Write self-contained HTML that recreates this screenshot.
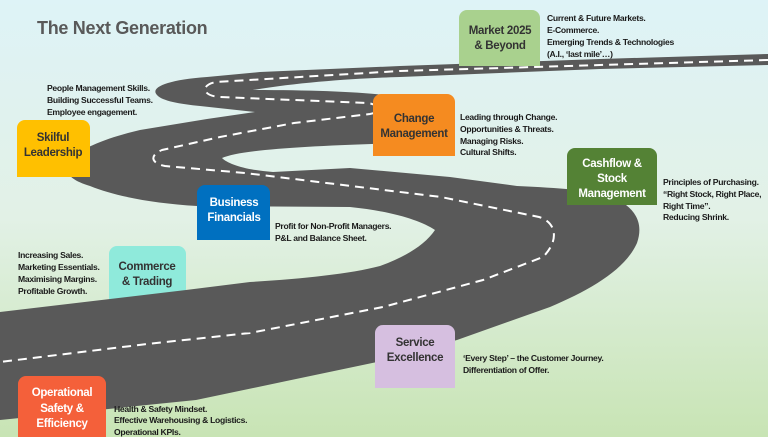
<!DOCTYPE html>
<html><head><meta charset="utf-8"><style>
html,body{margin:0;padding:0;}
body{width:768px;height:437px;overflow:hidden;}
svg text{font-family:"Liberation Sans",sans-serif;font-weight:bold;}
.n text{letter-spacing:-0.3px;}
.b text{letter-spacing:-0.3px;}
</style></head><body>
<svg width="768" height="437" viewBox="0 0 768 437" xmlns="http://www.w3.org/2000/svg">
<defs>
<linearGradient id="bg" x1="0" y1="0" x2="0" y2="1">
<stop offset="0" stop-color="#def3f7"/>
<stop offset="0.5" stop-color="#e2f1e6"/>
<stop offset="1" stop-color="#c8e4b4"/>
</linearGradient>
</defs>
<rect width="768" height="437" fill="url(#bg)"/>
<text x="37" y="34" font-size="18" fill="#595959" style="letter-spacing:-0.3px">The Next Generation</text>

<path d="M109,254 a8,8 0 0 1 8,-8 h61 a8,8 0 0 1 8,8 v56 h-77z" fill="#8feadb"/>

<!-- road -->
<path fill="#595959" d="
M768,54 L600,59 L400,66 L260,72 L207,77 C165,80 150,88 157,95 C162,101 180,104 200,106 L255,112
L207,119 L140,130 C110,137 80,148 70,160 C62,172 70,180 90,186 C115,196 150,203 197,206
L350,207 C390,211 420,220 435,230 C425,245 405,257 380,266 C350,274 300,279 250,282
L186,290 L0,312 L0,420 L196,400 L377,362 L457,340 L550,307 C590,290 625,270 637,243
C645,220 632,205 610,196 C590,190 560,188 517,186 L450,177 L350,168 L273,172 C245,170 228,164 222,158
C240,150 300,146 400,143 C440,138 440,110 410,100 C390,93 330,90 253,90
C300,82 360,78 400,77 L600,69 L768,65 Z"/>
<path fill="none" stroke="#fff" stroke-width="2" stroke-dasharray="9,6" d="
M768,60 L400,71 L216,82 C200,85 202,96 220,97 L368,103 C380,105 382,112 370,114 L294,123 L220,137 L162,150 C150,155 150,163 165,166
L245,173 L343,185 L441,197 L539,217 C556,222 560,240 543,257 L483,280 L383,307 L250,333 L147,344 L0,362"/>

<!-- boxes -->
<g class="b" font-size="11.5" text-anchor="middle">
<path d="M459,18 a8,8 0 0 1 8,-8 h65 a8,8 0 0 1 8,8 v48 h-81z" fill="#a9d18e"/>
<text x="500" y="34" fill="#333">Market 2025</text><text x="500" y="49" fill="#333">&amp; Beyond</text>

<path d="M373,102 a8,8 0 0 1 8,-8 h66 a8,8 0 0 1 8,8 v54 h-82z" fill="#f58b20"/>
<text x="414" y="122" fill="#333">Change</text><text x="414" y="137" fill="#333">Management</text>

<path d="M17,128 a8,8 0 0 1 8,-8 h57 a8,8 0 0 1 8,8 v49 h-73z" fill="#ffc000"/>
<text x="53" y="141" fill="#333">Skilful</text><text x="53" y="156" fill="#333">Leadership</text>

<path d="M567,156 a8,8 0 0 1 8,-8 h74 a8,8 0 0 1 8,8 v49 h-90z" fill="#548235"/>
<text x="612" y="167" fill="#fff">Cashflow &amp;</text><text x="612" y="182" fill="#fff">Stock</text><text x="612" y="197" fill="#fff">Management</text>

<path d="M197,193 a8,8 0 0 1 8,-8 h57 a8,8 0 0 1 8,8 v47 h-73z" fill="#0070c0"/>
<text x="234" y="206" fill="#fff">Business</text><text x="234" y="221" fill="#fff">Financials</text>

<text x="147" y="270" fill="#333">Commerce</text><text x="147" y="285" fill="#333">&amp; Trading</text>

<path d="M375,333 a8,8 0 0 1 8,-8 h64 a8,8 0 0 1 8,8 v55 h-80z" fill="#d6bfe0"/>
<text x="415" y="346" fill="#333">Service</text><text x="415" y="361" fill="#333">Excellence</text>

<path d="M18,384 a8,8 0 0 1 8,-8 h72 a8,8 0 0 1 8,8 v53 h-88z" fill="#f4603a"/>
<text x="62" y="396" fill="#fff">Operational</text><text x="62" y="412" fill="#fff">Safety &amp;</text><text x="62" y="427" fill="#fff">Efficiency</text>
</g>

<!-- notes -->
<g class="n" font-size="8.6" fill="#1a1a1a">
<text x="547" y="21">Current &amp; Future Markets.</text>
<text x="547" y="33">E-Commerce.</text>
<text x="547" y="45">Emerging Trends &amp; Technologies</text>
<text x="547" y="57">(A.I., ‘last mile’…)</text>

<text x="47" y="91">People Management Skills.</text>
<text x="47" y="103">Building Successful Teams.</text>
<text x="47" y="115">Employee engagement.</text>

<text x="460" y="120">Leading through Change.</text>
<text x="460" y="132">Opportunities &amp; Threats.</text>
<text x="460" y="144">Managing Risks.</text>
<text x="460" y="155">Cultural Shifts.</text>

<text x="663" y="185">Principles of Purchasing.</text>
<text x="663" y="197">“Right Stock, Right Place,</text>
<text x="663" y="209">Right Time”.</text>
<text x="663" y="220">Reducing Shrink.</text>

<text x="275" y="229">Profit for Non-Profit Managers.</text>
<text x="275" y="241">P&amp;L and Balance Sheet.</text>

<text x="18" y="258">Increasing Sales.</text>
<text x="18" y="270">Marketing Essentials.</text>
<text x="18" y="282">Maximising Margins.</text>
<text x="18" y="294">Profitable Growth.</text>

<text x="463" y="361">‘Every Step’ – the Customer Journey.</text>
<text x="463" y="373">Differentiation of Offer.</text>

<text x="114" y="412">Health &amp; Safety Mindset.</text>
<text x="114" y="423">Effective Warehousing &amp; Logistics.</text>
<text x="114" y="435">Operational KPIs.</text>
</g>
</svg>
</body></html>
